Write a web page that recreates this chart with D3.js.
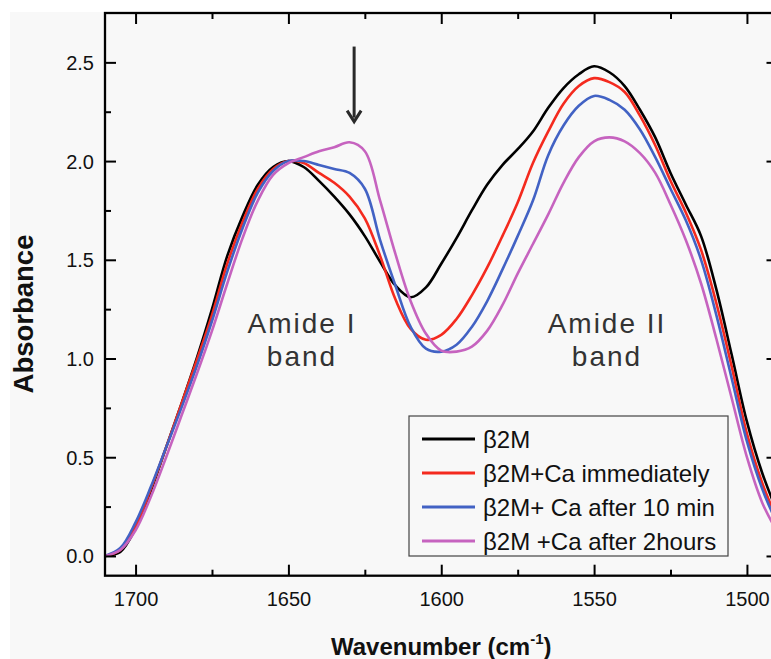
<!DOCTYPE html>
<html>
<head>
<meta charset="utf-8">
<script src="https://cdn.jsdelivr.net/npm/d3@7"></script>
<style>
  body { margin: 0; background: #fff; }
  text { font-family: "Liberation Sans", Arial, sans-serif; }
</style>
</head>
<body>
<div id="chart"></div>
<script>
// wavenumbers (cm-1) shared by all spectra
var wavenumbers = [1710,1705,1700,1695,1690,1685,1680,1675,1670,1665,1660,1655,1650,1645,1640,1635,1630,1625,1620,1615,1610,1605,1600,1595,1590,1585,1580,1575,1570,1565,1560,1555,1550,1545,1540,1535,1530,1525,1520,1515,1510,1505,1500,1495,1490];

var b2m = [0.00,0.02,0.14,0.33,0.55,0.77,1.00,1.25,1.52,1.72,1.88,1.97,2.00,1.97,1.90,1.82,1.73,1.62,1.49,1.37,1.31,1.36,1.48,1.61,1.75,1.88,1.98,2.06,2.15,2.27,2.37,2.44,2.48,2.45,2.38,2.26,2.12,1.94,1.78,1.62,1.35,1.02,0.68,0.42,0.22];
var b2mCaImmediately = [0.00,0.03,0.15,0.34,0.55,0.77,0.99,1.22,1.48,1.69,1.86,1.96,2.00,1.99,1.94,1.89,1.82,1.71,1.52,1.30,1.15,1.095,1.12,1.20,1.32,1.46,1.62,1.79,1.99,2.15,2.29,2.38,2.42,2.40,2.35,2.23,2.08,1.90,1.74,1.55,1.28,0.96,0.62,0.37,0.18];
var b2mCa10min = [0.00,0.04,0.17,0.35,0.55,0.75,0.96,1.19,1.44,1.66,1.84,1.95,2.00,2.00,1.98,1.96,1.94,1.86,1.60,1.37,1.16,1.05,1.035,1.07,1.16,1.29,1.45,1.62,1.80,2.03,2.18,2.28,2.33,2.31,2.26,2.16,2.02,1.86,1.70,1.50,1.22,0.90,0.58,0.34,0.16];
var b2mCa2hours = [0.00,0.03,0.13,0.30,0.50,0.71,0.92,1.14,1.38,1.61,1.80,1.93,1.99,2.02,2.05,2.07,2.095,2.05,1.80,1.53,1.29,1.125,1.04,1.035,1.06,1.14,1.27,1.43,1.58,1.73,1.89,2.02,2.10,2.12,2.10,2.04,1.94,1.78,1.60,1.38,1.10,0.80,0.50,0.27,0.12];

var seriesNames = ['\u03b22M', '\u03b22M+Ca immediately', '\u03b22M+ Ca after 10 min', '\u03b22M +Ca after 2hours'];
var seriesValues = [b2m, b2mCaImmediately, b2mCa10min, b2mCa2hours];
var seriesColors = ['#000000', '#f42a1e', '#4262c4', '#c663bf'];

var xMajorTicks = [1700, 1650, 1600, 1550, 1500];
var xMinorTicks = [1675, 1625, 1575, 1525];
var yMajorTicks = [0.0, 0.5, 1.0, 1.5, 2.0, 2.5];
var yMinorTicks = [0.25, 0.75, 1.25, 1.75, 2.25];

var W = 771, H = 659;
var plotLeft = 105, plotRight = 777.5, plotTop = 13, plotBottom = 575.7;

var svg = d3.select('#chart').append('svg')
    .attr('width', W)
    .attr('height', H);

svg.append('rect')
    .attr('x', 10).attr('y', 12)
    .attr('width', W - 10).attr('height', H - 12)
    .attr('fill', '#f8f8f8');

var x = d3.scaleLinear().domain([1710, 1490]).range([plotLeft, plotRight]);
var y = d3.scaleLinear().domain([-0.1, 2.75]).range([plotBottom, plotTop]);

// spectra
var line = d3.line()
    .x(function(d) { return x(d[0]); })
    .y(function(d) { return y(d[1]); })
    .curve(d3.curveCatmullRom.alpha(0.5));

seriesValues.forEach(function(vals, i) {
    svg.append('path')
        .datum(wavenumbers.map(function(w, j) { return [w, vals[j]]; }))
        .attr('fill', 'none')
        .attr('stroke', seriesColors[i])
        .attr('stroke-width', 2.6)
        .attr('stroke-linejoin', 'round')
        .attr('d', line);
});

// axes with inward ticks on all four sides
function styleAxis(g) {
    g.select('.domain').remove();
    g.selectAll('line').attr('stroke', '#000').attr('stroke-width', 2);
}

svg.append('g').attr('transform', 'translate(0,' + plotBottom + ')')
    .call(d3.axisBottom(x).tickValues(xMajorTicks).tickSize(-11).tickFormat(d3.format('d')))
    .call(styleAxis)
    .call(function(g) {
        g.selectAll('text').attr('y', 23).attr('dy', '0.35em')
            .attr('font-size', 20).attr('fill', '#111')
            .attr('font-family', '"Liberation Sans", Arial, sans-serif');
    });
svg.append('g').attr('transform', 'translate(0,' + plotBottom + ')')
    .call(d3.axisBottom(x).tickValues(xMinorTicks).tickSize(-6).tickFormat(''))
    .call(styleAxis);

svg.append('g').attr('transform', 'translate(0,' + plotTop + ')')
    .call(d3.axisTop(x).tickValues(xMajorTicks).tickSize(-11).tickFormat(''))
    .call(styleAxis);
svg.append('g').attr('transform', 'translate(0,' + plotTop + ')')
    .call(d3.axisTop(x).tickValues(xMinorTicks).tickSize(-6).tickFormat(''))
    .call(styleAxis);

svg.append('g').attr('transform', 'translate(' + plotLeft + ',0)')
    .call(d3.axisLeft(y).tickValues(yMajorTicks).tickSize(-11).tickFormat(d3.format('.1f')))
    .call(styleAxis)
    .call(function(g) {
        g.selectAll('text').attr('x', -11).attr('dy', '0.35em')
            .attr('font-size', 20).attr('fill', '#111')
            .attr('font-family', '"Liberation Sans", Arial, sans-serif');
    });
svg.append('g').attr('transform', 'translate(' + plotLeft + ',0)')
    .call(d3.axisLeft(y).tickValues(yMinorTicks).tickSize(-6).tickFormat(''))
    .call(styleAxis);

svg.append('g').attr('transform', 'translate(' + plotRight + ',0)')
    .call(d3.axisRight(y).tickValues(yMajorTicks).tickSize(-11).tickFormat(''))
    .call(styleAxis);
svg.append('g').attr('transform', 'translate(' + plotRight + ',0)')
    .call(d3.axisRight(y).tickValues(yMinorTicks).tickSize(-6).tickFormat(''))
    .call(styleAxis);

// frame
svg.append('rect')
    .attr('x', plotLeft).attr('y', plotTop)
    .attr('width', plotRight - plotLeft).attr('height', plotBottom - plotTop)
    .attr('fill', 'none')
    .attr('stroke', '#000')
    .attr('stroke-width', 2.3);

// axis titles
var xTitle = svg.append('text')
    .attr('x', (plotLeft + plotRight) / 2)
    .attr('y', 655)
    .attr('text-anchor', 'middle')
    .attr('font-size', 24)
    .attr('font-weight', 'bold')
    .attr('fill', '#111');
xTitle.append('tspan').text('Wavenumber (cm');
xTitle.append('tspan').attr('font-size', 15).attr('dy', -11).text('-1');
xTitle.append('tspan').attr('dy', 11).text(')');

svg.append('text')
    .attr('transform', 'translate(33,314) rotate(-90)')
    .attr('text-anchor', 'middle')
    .attr('font-size', 27.5)
    .attr('font-weight', 'bold')
    .attr('fill', '#111')
    .text('Absorbance');

// band annotations
var bandLabels = [
    {cx: 301, lines: ['Amide I', 'band']},
    {cx: 606, lines: ['Amide II', 'band']}
];
bandLabels.forEach(function(b) {
    b.lines.forEach(function(t, i) {
        svg.append('text')
            .attr('x', b.cx + 1)
            .attr('y', 333 + i * 33)
            .attr('text-anchor', 'middle')
            .attr('font-family', '"Open Sans", "Noto Sans", sans-serif')
            .attr('font-size', 28)
            .attr('letter-spacing', 2)
            .attr('fill', '#333')
            .text(t);
    });
});

// arrow marking the new shoulder
var arrowX = x(1628.5);
svg.append('line')
    .attr('x1', arrowX).attr('x2', arrowX)
    .attr('y1', y(2.58)).attr('y2', y(2.22))
    .attr('stroke', '#2a2a2a')
    .attr('stroke-width', 3);
svg.append('path')
    .attr('d', 'M' + (arrowX - 7) + ',' + (y(2.20) - 11) + 'L' + arrowX + ',' + y(2.20) + 'L' + (arrowX + 7) + ',' + (y(2.20) - 11))
    .attr('fill', 'none')
    .attr('stroke', '#2a2a2a')
    .attr('stroke-width', 3)
    .attr('stroke-linejoin', 'miter');

// legend
var legend = svg.append('g');
legend.append('rect')
    .attr('x', 409).attr('y', 416)
    .attr('width', 319).attr('height', 140)
    .attr('fill', '#f8f8f8')
    .attr('stroke', '#444')
    .attr('stroke-width', 1.2);
seriesNames.forEach(function(name, i) {
    var ly = 439 + i * 34;
    legend.append('line')
        .attr('x1', 422).attr('x2', 475)
        .attr('y1', ly).attr('y2', ly)
        .attr('stroke', seriesColors[i])
        .attr('stroke-width', 3);
    legend.append('text')
        .attr('x', 483).attr('y', ly)
        .attr('dy', '0.36em')
        .attr('font-size', 24)
        .attr('fill', '#111')
        .text(name);
});
</script>
</body>
</html>
